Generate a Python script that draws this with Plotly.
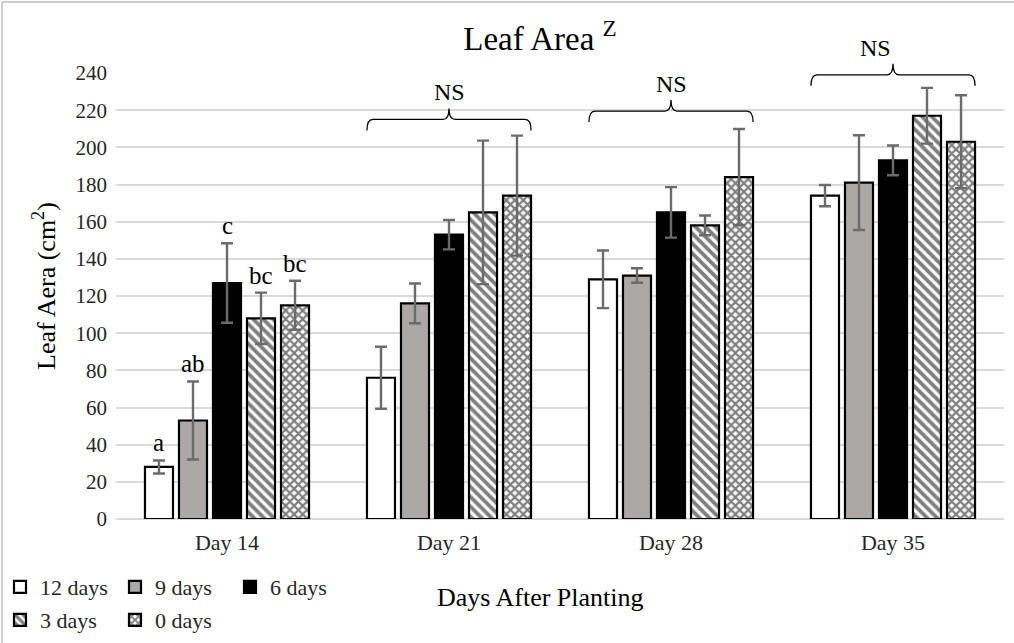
import plotly.graph_objects as go

# ---- data -----------------------------------------------------------------
days = ["Day 14", "Day 21", "Day 28", "Day 35"]
treatments = ["12 days", "9 days", "6 days", "3 days", "0 days"]

mean_12 = [28, 76, 129, 174]
mean_9 = [53, 116, 131, 181]
mean_6 = [127, 153, 165, 193]
mean_3 = [108, 165, 158, 217]
mean_0 = [115, 174, 184, 203]

err_12 = [3.5, 16.7, 15.5, 5.7]
err_9 = [21, 10.7, 3.9, 25.5]
err_6 = [21.4, 7.9, 13.6, 8]
err_3 = [13.8, 38.6, 5.3, 15]
err_0 = [13.2, 32.3, 25.9, 25]

# mean-separation letters for Day 14 (one per treatment)
letters_day14 = ["a", "ab", "c", "bc", "bc"]
# "NS" brace heights (leaf-area units) for Day 21, 28, 35
ns_days = [1, 2, 3]
ns_levels = [215, 219.5, 239]

y_ticks = list(range(0, 241, 20))

# ---- layout constants -------------------------------------------------------
W, H = 1014, 643
ML, MR, MT, MB = 116, 10, 73, 124
PW, PH = W - ML - MR, H - MT - MB
Y_MAX = 240
BARGAP = 0.234
GROUPGAP = 0.176
SERIF = "Liberation Serif, Times New Roman, serif"
TEXT = "#262626"

means = [mean_12, mean_9, mean_6, mean_3, mean_0]
errs = [err_12, err_9, err_6, err_3, err_0]
styles = [
    dict(color="white"),
    dict(color="#aba8a6"),
    dict(color="black"),
    dict(color="white", pattern=dict(shape="\\", fgcolor="black", bgcolor="white",
                                     size=7, solidity=0.55, fillmode="overlay")),
    dict(color="white", pattern=dict(shape="x", fgcolor="black", bgcolor="white",
                                     size=6, solidity=0.6, fillmode="overlay")),
]

x_idx = list(range(len(days)))

fig = go.Figure()
for k, name in enumerate(treatments):
    fig.add_trace(go.Bar(
        name=name,
        x=x_idx,
        y=means[k],
        error_y=dict(type="data", array=errs[k], color="#6b6b6b", thickness=2.4, width=6),
        marker=dict(**styles[k], line=dict(color="black", width=2.2)),
        legend="legend" if k < 3 else "legend2",
        showlegend=True,
    ))

slot = (1 - BARGAP) / len(treatments)

# letters above the Day 14 error bars
annotations = []
for k, lab in enumerate(letters_day14):
    annotations.append(dict(
        x=(k - 2) * slot, y=means[k][0] + errs[k][0],
        xref="x", yref="y", text=lab, showarrow=False,
        yanchor="bottom", yshift=2,
        font=dict(family=SERIF, size=25, color="black"),
    ))


def px_x(xv):
    return (xv + 0.5) / len(days)


def px_y(yv):
    return yv / Y_MAX


shapes = []
half = 2 * slot + slot * (1 - GROUPGAP) / 2
rx, ry = 6 / PW, 11 / PH
for d, lvl in zip(ns_days, ns_levels):
    x0, x1, xc = px_x(d - half), px_x(d + half), px_x(d)
    yl = px_y(lvl)
    path = (
        f"M {x0},{yl - ry} Q {x0},{yl} {x0 + rx},{yl} "
        f"L {xc - rx},{yl} Q {xc},{yl} {xc},{yl + ry} "
        f"Q {xc},{yl} {xc + rx},{yl} "
        f"L {x1 - rx},{yl} Q {x1},{yl} {x1},{yl - ry}"
    )
    shapes.append(dict(type="path", path=path, xref="paper", yref="paper",
                       line=dict(color="black", width=1.3)))
    annotations.append(dict(
        x=xc, y=yl, xref="paper", yref="paper", text="NS", showarrow=False,
        yanchor="bottom", yshift=12,
        font=dict(family=SERIF, size=24, color="black"),
    ))

# outer chart frame (top and left edges)
shapes.append(dict(type="line", xref="paper", yref="paper",
                   x0=(2 - ML) / PW, x1=(W - ML) / PW,
                   y0=(H - MB - 2) / PH, y1=(H - MB - 2) / PH,
                   line=dict(color="#bfbfbf", width=1.5)))
shapes.append(dict(type="line", xref="paper", yref="paper",
                   x0=(2 - ML) / PW, x1=(2 - ML) / PW,
                   y0=(H - MB - 2) / PH, y1=-MB / PH,
                   line=dict(color="#bfbfbf", width=1.5)))

# axis titles
annotations.append(dict(
    x=(540 - ML) / PW, y=-(597 - (H - MB)) / PH, xref="paper", yref="paper",
    text="Days After Planting", showarrow=False, xanchor="center", yanchor="middle",
    font=dict(family=SERIF, size=26, color="black"),
))
annotations.append(dict(
    x=(44 - ML) / PW, y=(H - MB - 286) / PH, xref="paper", yref="paper", textangle=-90,
    text="Leaf Aera (cm<sup>2</sup>)", showarrow=False, xanchor="center", yanchor="middle",
    font=dict(family=SERIF, size=26, color="black"),
))

fig.update_layout(
    width=W, height=H, autosize=False,
    margin=dict(l=ML, r=MR, t=MT, b=MB),
    paper_bgcolor="white", plot_bgcolor="white",
    barmode="group", bargap=BARGAP, bargroupgap=GROUPGAP,
    title=dict(text="Leaf Area <sup>Z</sup>", x=540 / W, xref="container", xanchor="center",
               y=1 - 38 / H, yref="container", yanchor="middle",
               font=dict(family=SERIF, size=33, color="black")),
    xaxis=dict(range=[-0.5, len(days) - 0.5], tickvals=x_idx, ticktext=days,
               showgrid=False, zeroline=False, showline=False, ticks="",
               ticklabelstandoff=8,
               tickfont=dict(family=SERIF, size=22, color=TEXT)),
    yaxis=dict(range=[0, Y_MAX], tickvals=y_ticks, showgrid=True, gridcolor="#d9d9d9",
               gridwidth=1.6, zeroline=True, zerolinecolor="#d9d9d9", zerolinewidth=2,
               showline=False, ticks="", ticklabelstandoff=8,
               tickfont=dict(family=SERIF, size=21, color=TEXT)),
    legend=dict(orientation="h", xref="container", yref="container",
                x=0.0, y=1 - 566 / H, xanchor="left", yanchor="top",
                entrywidth=70, itemwidth=30, traceorder="normal",
                font=dict(family=SERIF, size=22, color=TEXT), bgcolor="rgba(0,0,0,0)"),
    legend2=dict(orientation="h", xref="container", yref="container",
                 x=0.0, y=1 - 599 / H, xanchor="left", yanchor="top",
                 entrywidth=70, itemwidth=30, traceorder="normal",
                 font=dict(family=SERIF, size=22, color=TEXT), bgcolor="rgba(0,0,0,0)"),
    shapes=shapes,
    annotations=annotations,
)

fig.write_html("out.html")
